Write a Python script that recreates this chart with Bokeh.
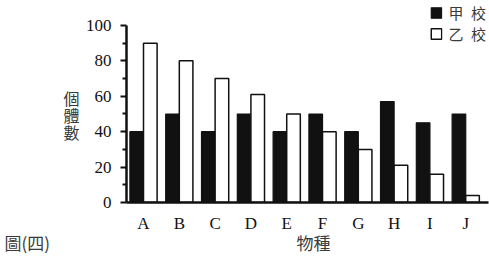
from bokeh.plotting import figure
from bokeh.models import (Range1d, FixedTicker, Legend, LegendItem, ColumnDataSource,
                          Title, LinearAxis)
from bokeh.transform import dodge
from bokeh.embed import file_html
from bokeh.resources import INLINE

species = ["A", "B", "C", "D", "E", "F", "G", "H", "I", "J"]
school_jia = [40, 50, 40, 50, 40, 50, 40, 57, 45, 50]
school_yi = [90, 80, 70, 61, 50, 40, 30, 21, 16, 4]
y_ticks = [0, 20, 40, 60, 80, 100]
y_title_chars = ["個", "體", "數"]

xs = list(range(len(species)))
src = ColumnDataSource(dict(x=xs, jia=school_jia, yi=school_yi))

p = figure(width=489, height=256, output_backend="svg", toolbar_location=None,
           x_range=Range1d(-0.475, 9.636), y_range=Range1d(0, 114.1),
           min_border_left=126, min_border_right=1, min_border_top=0, min_border_bottom=54)
p.outline_line_color = None
p.grid.visible = False
p.background_fill_color = "white"
p.border_fill_color = "white"

r1 = p.vbar(x=dodge("x", -0.19, range=p.x_range), top="jia", width=0.38, source=src,
            fill_color="#111111", line_color="#111111", line_width=1.2)
r2 = p.vbar(x=dodge("x", 0.19, range=p.x_range), top="yi", width=0.38, source=src,
            fill_color="white", line_color="#111111", line_width=1.5)

cjk = "Noto Sans CJK TC"
txt_grey = "#3a3a3a"

# y axis
ya = p.yaxis[0]
ya.ticker = FixedTicker(ticks=y_ticks, minor_ticks=[10, 30, 50, 70, 90])
ya.bounds = (0, 100)
ya.axis_line_width = 2.5
ya.axis_line_color = "#111111"
ya.major_tick_line_width = 2
ya.major_tick_line_color = "#111111"
ya.minor_tick_line_width = 2
ya.minor_tick_line_color = "#111111"
ya.major_tick_out = 6
ya.major_tick_in = 0
ya.minor_tick_out = 4
ya.minor_tick_in = 0
ya.major_label_text_font = "Liberation Serif"
ya.major_label_text_font_size = "17px"
ya.major_label_text_color = "#111111"
ya.major_label_standoff = 9

# stacked vertical title of the y axis, drawn as labels of an outer left axis
title_pos = [59.3, 49.7, 40.1]
ya2 = LinearAxis(ticker=FixedTicker(ticks=title_pos, minor_ticks=[]),
                 major_label_overrides={v: c for v, c in zip(title_pos, y_title_chars)},
                 axis_line_color=None, major_tick_line_color=None, minor_tick_line_color=None,
                 major_tick_out=0, major_tick_in=0, major_label_standoff=3,
                 major_label_text_font=cjk, major_label_text_font_size="16px",
                 major_label_text_color=txt_grey)
p.add_layout(ya2, "left")

# x axis
xa = p.xaxis[0]
xa.ticker = FixedTicker(ticks=xs)
xa.major_label_overrides = {i: s for i, s in enumerate(species)}
xa.axis_line_width = 2.5
xa.axis_line_color = "#111111"
xa.major_tick_line_color = None
xa.minor_tick_line_color = None
xa.major_tick_out = 0
xa.major_tick_in = 0
xa.major_label_text_font = "Liberation Serif"
xa.major_label_text_font_size = "17px"
xa.major_label_text_color = "#111111"
xa.major_label_standoff = 11
xa.axis_label_standoff = 0

# figure caption (left) and x-axis title (centre) share one row below the axis
p.add_layout(Title(text="圖(四)" + "\u2003" * 14 + "\u2002" + "物種", align="left",
                   offset=-122, standoff=-15,
                   text_font=cjk, text_font_size="17px", text_font_style="normal",
                   text_color=txt_grey), "below")

legend = Legend(items=[LegendItem(label="甲\u2002校", renderers=[r1]),
                       LegendItem(label="乙\u2002校", renderers=[r2])],
                location="top_right", border_line_color=None, background_fill_alpha=0,
                label_text_font=cjk, label_text_font_size="15px", label_text_color=txt_grey,
                glyph_width=13, glyph_height=13, spacing=-5, padding=0, margin=2,
                label_standoff=6, label_height=18)
p.add_layout(legend)

open("out.html", "w").write(file_html(p, INLINE))
